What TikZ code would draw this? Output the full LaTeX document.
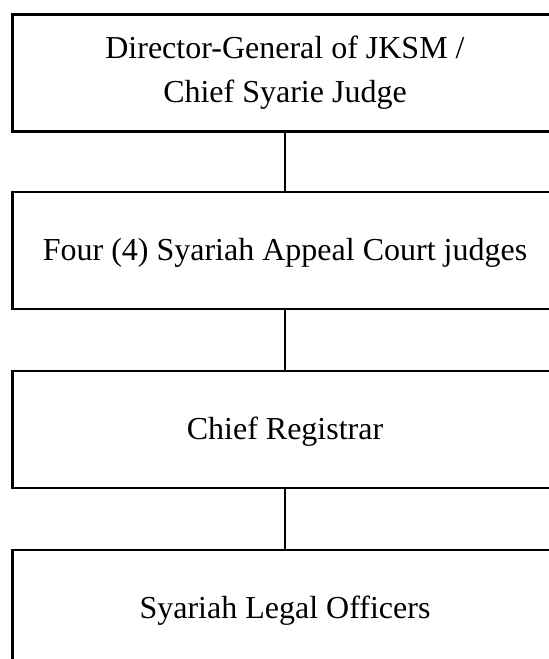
\documentclass[tikz,border=0pt]{standalone}
\usepackage{fontspec}
\setmainfont{Liberation Serif}
\begin{document}
\begin{tikzpicture}[x=1pt,y=1pt,
  orgbox/.style={draw=black, line width=2.2pt, rectangle, minimum width=545pt,
    minimum height=117pt, align=center, inner sep=0pt,
    text height=20pt, text depth=0pt,
    font=\fontsize{32}{44}\selectfont},
  link/.style={draw=black, line width=2.2pt}]
\useasboundingbox (0,0) rectangle (549,659);
\clip (0,0) rectangle (549,659);
\node[orgbox, text height=64pt, text depth=4pt] (dg) at (285,586)
  {Director-General of JKSM /\\Chief Syarie Judge};
\node[orgbox] (appeal) at (285,408.5) {Four (4) Syariah Appeal Court judges};
\node[orgbox] (registrar) at (285,229.5) {Chief Registrar};
\node[orgbox] (officers) at (285,50.5) {Syariah Legal Officers};
\draw[link] (dg.south) -- (appeal.north);
\draw[link] (appeal.south) -- (registrar.north);
\draw[link] (registrar.south) -- (officers.north);
\end{tikzpicture}
\end{document}
